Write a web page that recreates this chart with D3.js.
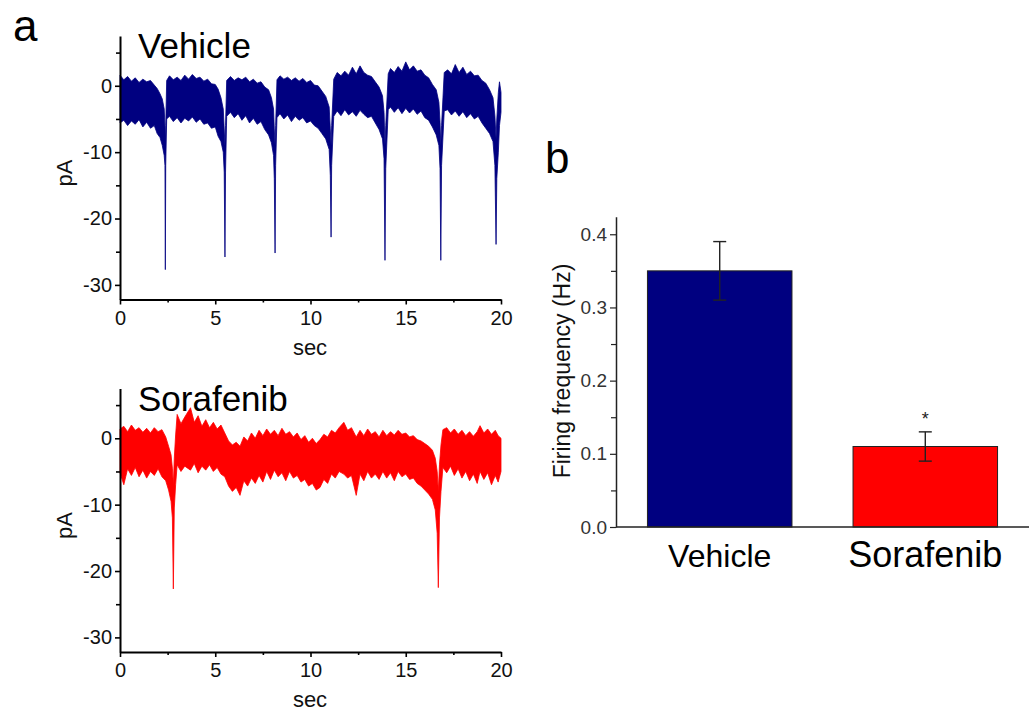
<!DOCTYPE html>
<html>
<head>
<meta charset="utf-8">
<title>Firing of neurons: Vehicle vs Sorafenib</title>
<script src="https://d3js.org/d3.v7.min.js"></script>
<style>
body { margin: 0; background: #fff; }
svg { display: block; font-family: Arial, "Liberation Sans", sans-serif; }
</style>
</head>
<body>
<script>
const vehicleTrace = [
  [0.0, 1.6, -5.6], [0.2, 0.9, -5.2], [0.4, 1.4, -6.0], [0.6, 0.7, -5.3], [0.8, 1.2, -5.8],
  [1.0, 0.5, -5.1], [1.2, 1.0, -6.2], [1.4, 0.6, -5.5], [1.6, 0.8, -6.4], [1.8, 0.1, -6.0],
  [1.95, -0.4, -7.2], [2.1, -1.2, -7.8], [2.22, -2.0, -9.0], [2.32, -3.5, -10.5], [2.36, -6.0, -12.0],
  [2.38, -9.0, -27.7], [2.40, -6.0, -12.0], [2.45, 0.8, -5.0],
  [2.6, 1.5, -4.6], [2.8, 0.9, -5.4], [3.0, 1.3, -4.8], [3.2, 0.8, -5.6], [3.4, 1.6, -4.9],
  [3.6, 1.0, -5.3], [3.8, 1.7, -4.7], [4.0, 1.1, -5.5], [4.2, 1.3, -5.0], [4.4, 0.7, -5.8],
  [4.6, 1.0, -5.6], [4.8, 0.3, -6.4], [5.0, 0.2, -6.2], [5.15, -0.5, -7.6], [5.3, -1.8, -8.4],
  [5.42, -3.5, -10.0], [5.47, -6.5, -13.0], [5.51, -9.0, -25.8], [5.54, -6.0, -13.0], [5.6, 0.8, -4.6],
  [5.8, 1.4, -4.0], [6.0, 0.8, -4.8], [6.2, 1.2, -4.2], [6.4, 0.9, -5.2], [6.6, 1.3, -4.5],
  [6.8, 0.6, -5.6], [7.0, 1.0, -4.9], [7.2, 0.4, -5.8], [7.4, 0.6, -5.4], [7.6, -0.2, -6.6],
  [7.8, -0.6, -7.4], [7.95, -1.8, -8.6], [8.06, -3.5, -10.5], [8.10, -6.5, -14.0], [8.14, -9.0, -25.2],
  [8.17, -6.0, -12.0], [8.24, 0.9, -4.8],
  [8.4, 1.5, -4.2], [8.6, 1.0, -5.0], [8.8, 1.3, -4.4], [9.0, 0.8, -5.4], [9.2, 1.2, -4.6],
  [9.4, 0.7, -5.2], [9.6, 1.1, -4.8], [9.8, 0.5, -5.6], [10.0, 0.8, -5.3], [10.2, 0.1, -6.0],
  [10.4, 0.0, -6.4], [10.6, -0.8, -7.2], [10.8, -1.6, -8.0], [10.98, -3.2, -9.6], [11.04, -6.5, -13.5],
  [11.08, -9.0, -22.8], [11.11, -6.0, -12.0], [11.22, 1.0, -4.6],
  [11.4, 2.0, -3.8], [11.6, 1.5, -4.5], [11.8, 2.2, -3.6], [12.0, 1.6, -4.4], [12.2, 2.8, -3.9],
  [12.4, 1.8, -4.6], [12.6, 3.0, -3.7], [12.8, 2.0, -4.3], [13.0, 1.6, -4.8], [13.2, 1.4, -4.6],
  [13.4, 0.6, -5.6], [13.6, -0.2, -6.6], [13.78, -1.5, -8.0], [13.86, -4.0, -11.0], [13.91, -9.0, -26.3],
  [13.95, -6.0, -12.5], [14.08, 1.8, -3.6],
  [14.2, 2.6, -3.2], [14.4, 2.0, -4.0], [14.6, 2.9, -3.3], [14.8, 2.2, -4.2], [15.0, 3.6, -3.4],
  [15.2, 2.4, -4.1], [15.4, 3.0, -3.5], [15.6, 2.2, -4.3], [15.8, 2.4, -3.8], [16.0, 1.6, -4.8],
  [16.2, 1.2, -5.2], [16.4, 0.2, -6.2], [16.6, -0.6, -7.4], [16.74, -2.5, -9.0], [16.80, -5.5, -12.5],
  [16.84, -9.0, -26.3], [16.88, -6.0, -12.0], [17.02, 2.0, -3.8],
  [17.2, 2.4, -3.6], [17.4, 1.8, -4.4], [17.6, 3.2, -3.8], [17.8, 2.0, -4.6], [18.0, 2.8, -3.9],
  [18.2, 1.7, -4.8], [18.4, 2.2, -4.2], [18.6, 1.5, -5.0], [18.8, 1.6, -4.6], [19.0, 0.8, -5.6],
  [19.2, 0.4, -6.4], [19.4, -0.6, -7.2], [19.58, -1.8, -8.4], [19.68, -4.5, -12.0], [19.74, -8.0, -23.9],
  [19.78, -5.0, -14.0], [19.86, -1.0, -10.0], [19.92, 0.6, -6.0], [20.0, -1.0, -4.0]
];

const sorafenibTrace = [
  [0.0, 1.4, -5.2], [0.2, 1.8, -7.0], [0.4, 1.0, -4.6], [0.6, 2.0, -5.6], [0.8, 1.2, -4.4],
  [1.0, 1.6, -5.8], [1.2, 0.9, -4.8], [1.4, 1.5, -6.0], [1.6, 0.8, -5.0], [1.8, 1.6, -5.6],
  [2.0, 1.0, -4.6], [2.2, 1.3, -5.8], [2.4, 0.2, -6.4], [2.55, -1.2, -7.8], [2.68, -2.5, -9.5],
  [2.75, -4.5, -12.0], [2.8, -7.0, -22.7], [2.85, -3.0, -10.5], [2.92, 0.5, -7.0],
  [3.0, 3.6, -4.0], [3.2, 2.2, -5.0], [3.4, 3.2, -4.2], [3.7, 4.6, -4.8], [3.9, 2.4, -3.8],
  [4.1, 3.4, -5.2], [4.3, 1.8, -4.2], [4.5, 2.8, -4.8], [4.7, 1.6, -4.0], [4.9, 2.4, -5.0],
  [5.1, 1.4, -4.4], [5.3, 2.0, -5.4], [5.5, 0.8, -5.8], [5.7, -0.4, -7.2], [5.9, -1.0, -8.0],
  [6.1, -0.6, -7.4], [6.3, -1.2, -8.6], [6.5, 0.2, -6.4], [6.7, -0.4, -7.2], [6.9, 0.8, -6.0],
  [7.1, 0.0, -6.8], [7.3, 1.2, -5.6], [7.5, 0.4, -6.6], [7.7, 1.4, -5.0], [7.9, 0.6, -6.2],
  [8.1, 1.2, -4.8], [8.3, 0.4, -5.8], [8.5, 1.5, -5.2], [8.7, 0.6, -6.4], [8.9, 1.0, -5.0],
  [9.1, 0.2, -6.0], [9.3, 0.8, -5.6], [9.5, -0.2, -6.6], [9.7, 0.4, -6.2], [9.9, -0.6, -7.2],
  [10.1, 0.0, -6.8], [10.3, -0.8, -7.8], [10.5, -0.2, -7.4], [10.7, 0.6, -6.2], [10.9, 0.2, -6.8],
  [11.1, 1.2, -5.4], [11.3, 0.8, -6.0], [11.5, 1.6, -5.0], [11.75, 2.4, -5.4], [11.95, 1.2, -6.0],
  [12.15, 1.6, -5.6], [12.4, 0.2, -8.6], [12.6, 1.2, -5.4], [12.8, 0.4, -6.4], [13.0, 1.4, -5.0],
  [13.2, 0.6, -6.0], [13.4, 1.0, -5.4], [13.6, 0.2, -6.2], [13.8, 1.2, -5.0], [14.0, 0.4, -6.0],
  [14.2, 1.0, -5.2], [14.4, 0.5, -6.4], [14.6, 1.2, -5.0], [14.8, 0.6, -5.8], [15.0, 0.8, -5.4],
  [15.2, 0.2, -6.2], [15.4, 0.4, -6.0], [15.6, -0.2, -6.8], [15.8, -0.4, -7.2], [16.0, -0.8, -7.8],
  [16.2, -1.2, -8.4], [16.4, -1.8, -9.2], [16.55, -3.0, -10.8], [16.65, -5.0, -14.3], [16.71, -8.0, -22.5],
  [16.77, -4.0, -12.0], [16.85, -1.0, -8.0], [16.95, 1.3, -4.4],
  [17.15, 1.6, -5.2], [17.35, 0.8, -4.2], [17.55, 1.4, -5.6], [17.75, 0.6, -4.6], [17.95, 1.2, -6.0],
  [18.15, 0.4, -5.0], [18.35, 1.0, -6.4], [18.55, 0.3, -5.4], [18.75, 1.0, -6.8], [18.9, 1.9, -5.0],
  [19.1, 0.8, -6.2], [19.3, 1.4, -5.2], [19.5, 0.6, -7.0], [19.7, 1.2, -5.6], [19.85, 0.4, -6.6],
  [20.0, 0.0, -5.0]
];

const traceYTicks = [-30, -20, -10, 0];
const traceYMinor = [-25, -15, -5, 5];
const traceXTicks = [0, 5, 10, 15, 20];
const traceXMinor = [2.5, 7.5, 12.5, 17.5];

// panel b
const groups = ['Vehicle', 'Sorafenib'];
const firingMean = [0.35, 0.11];
const firingErr = [0.04, 0.02];
const barColors = ['#000080', '#ff0000'];
const groupLabelSize = [32, 36];
const freqTicks = [0, 0.1, 0.2, 0.3, 0.4];
const freqMinor = [0.05, 0.15, 0.25, 0.35];

const svg = d3.select('body').append('svg').attr('width', 1033).attr('height', 713);

const x = d3.scaleLinear().domain([0, 20]).range([120, 501]);

function drawTrace(top, data, color, title) {
    let y = d3.scaleLinear().domain([-32.2, 7.5]).range([top + 263.5, top]);
    let g = svg.append('g');

    let area = d3.area().x(d => x(d[0])).y0(d => y(d[2])).y1(d => y(d[1]));
    g.append('path').datum(data).attr('d', area)
        .attr('fill', color).attr('stroke', color)
        .attr('stroke-width', 0.8).attr('stroke-linejoin', 'round');

    // minor ticks first, then the labelled ones
    g.append('g').attr('transform', 'translate(120,0)')
        .call(d3.axisLeft(y).tickValues(traceYMinor).tickSize(4).tickFormat(''))
        .call(a => a.select('.domain').remove());
    g.append('g').attr('transform', 'translate(120,0)')
        .call(d3.axisLeft(y).tickValues(traceYTicks).tickSize(5).tickSizeOuter(0).tickPadding(3).tickFormat(d => String(d)));

    let base = y.range()[0];
    g.append('g').attr('transform', `translate(0,${base})`)
        .call(d3.axisBottom(x).tickValues(traceXMinor).tickSize(3).tickFormat(''))
        .call(a => a.select('.domain').remove());
    g.append('g').attr('transform', `translate(0,${base})`)
        .call(d3.axisBottom(x).tickValues(traceXTicks).tickSize(5).tickSizeOuter(0).tickPadding(6));

    g.selectAll('.domain').attr('stroke', '#000').attr('stroke-width', 2);
    g.selectAll('.tick line').attr('stroke', '#000').attr('stroke-width', 1.6);
    g.selectAll('.tick text').attr('font-size', 20).attr('font-family', 'Arial, "Liberation Sans", sans-serif').attr('fill', '#111');

    g.append('text').attr('x', 310).attr('y', base + 55).attr('text-anchor', 'middle')
        .attr('font-size', 22).attr('fill', '#111').text('sec');
    g.append('text').attr('transform', `translate(72,${top + 137}) rotate(-90)`).attr('text-anchor', 'middle')
        .attr('font-size', 22).attr('fill', '#111').text('pA');
    g.append('text').attr('x', 138).attr('y', top + 22).attr('font-size', 35).attr('fill', '#000').text(title);
}

drawTrace(36, vehicleTrace, '#000080', 'Vehicle');
drawTrace(388.5, sorafenibTrace, '#ff0000', 'Sorafenib');

svg.append('text').attr('x', 13).attr('y', 41).attr('font-size', 44).text('a');
svg.append('text').attr('x', 545).attr('y', 173).attr('font-size', 44).text('b');

// bar chart
let yb = d3.scaleLinear().domain([0, 0.424]).range([527, 216.7]);
let xb = d3.scaleBand().domain(groups).range([616, 1029]).paddingInner(0.297).paddingOuter(0.153);
let gb = svg.append('g');

gb.selectAll('rect').data(groups).join('rect')
    .attr('x', d => xb(d)).attr('width', xb.bandwidth())
    .attr('y', (d, i) => yb(firingMean[i])).attr('height', (d, i) => yb(0) - yb(firingMean[i]))
    .attr('fill', (d, i) => barColors[i]).attr('stroke', '#222').attr('stroke-width', 1);

let err = gb.append('g').selectAll('g').data(groups).join('g')
    .attr('transform', d => `translate(${xb(d) + xb.bandwidth() / 2},0)`);
err.append('line').attr('y1', (d, i) => yb(firingMean[i] + firingErr[i])).attr('y2', (d, i) => yb(firingMean[i] - firingErr[i]));
err.append('line').attr('x1', -6.5).attr('x2', 6.5).attr('y1', (d, i) => yb(firingMean[i] + firingErr[i])).attr('y2', (d, i) => yb(firingMean[i] + firingErr[i]));
err.append('line').attr('x1', -6.5).attr('x2', 6.5).attr('y1', (d, i) => yb(firingMean[i] - firingErr[i])).attr('y2', (d, i) => yb(firingMean[i] - firingErr[i]));
err.selectAll('line').attr('stroke', '#222').attr('stroke-width', 1.4);

gb.append('text').attr('x', xb('Sorafenib') + xb.bandwidth() / 2).attr('y', yb(firingMean[1] + firingErr[1]) - 7)
    .attr('text-anchor', 'middle').attr('font-size', 18).attr('fill', '#222').text('*');

gb.append('g').attr('transform', 'translate(616,0)')
    .call(d3.axisLeft(yb).tickValues(freqMinor).tickSize(5).tickFormat(''))
    .call(a => a.select('.domain').remove());
gb.append('g').attr('transform', 'translate(616,0)')
    .call(d3.axisLeft(yb).tickValues(freqTicks).tickSize(6).tickSizeOuter(0).tickPadding(3).tickFormat(d3.format('.1f')));
gb.append('line').attr('x1', 616).attr('x2', 1029).attr('y1', yb(0)).attr('y2', yb(0)).attr('stroke', '#222').attr('stroke-width', 1.5);

gb.selectAll('.domain').attr('stroke', '#222').attr('stroke-width', 1.5);
gb.selectAll('.tick line').attr('stroke', '#222').attr('stroke-width', 1.2);
gb.selectAll('.tick text').attr('font-size', 19).attr('font-family', 'Arial, "Liberation Sans", sans-serif').attr('fill', '#333');

gb.append('text').attr('transform', 'translate(570,371) rotate(-90)').attr('text-anchor', 'middle')
    .attr('font-size', 23).attr('fill', '#111').text('Firing frequency (Hz)');

gb.selectAll('.cat').data(groups).join('text').attr('class', 'cat')
    .attr('x', d => xb(d) + xb.bandwidth() / 2).attr('y', 567).attr('text-anchor', 'middle')
    .attr('font-size', (d, i) => groupLabelSize[i]).attr('fill', '#000').text(d => d);
</script>
</body>
</html>
